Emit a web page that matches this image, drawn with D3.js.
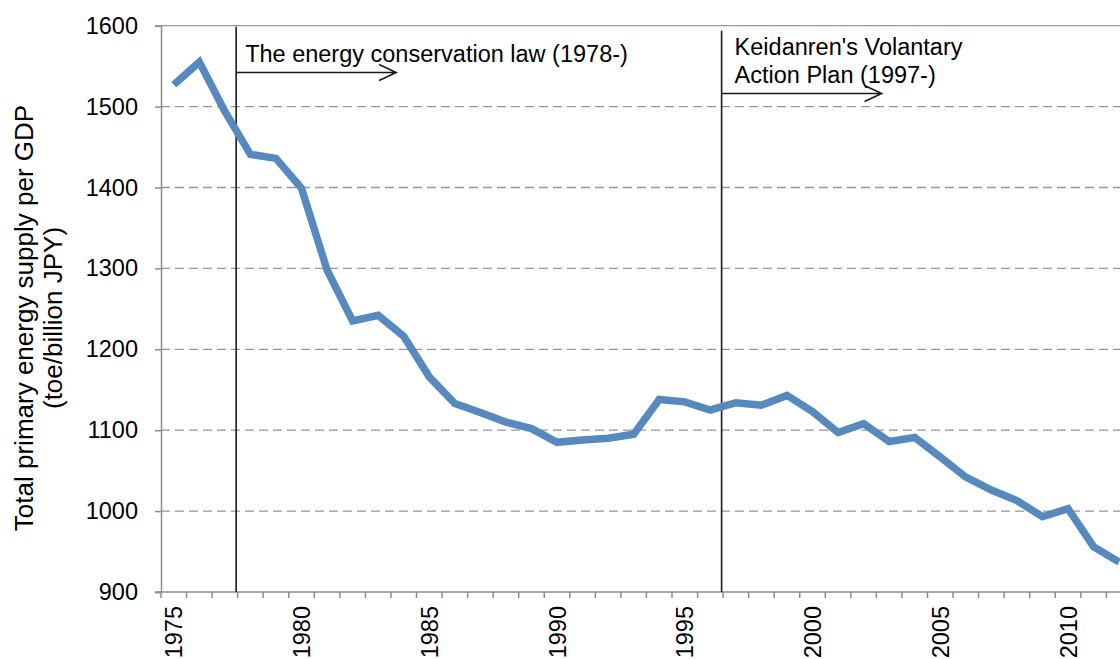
<!DOCTYPE html>
<html>
<head>
<meta charset="utf-8">
<script src="https://cdn.jsdelivr.net/npm/d3@7"></script>
<style>
  body { margin: 0; background: #fff; }
  svg { display: block; font-family: "Liberation Sans", Arial, sans-serif; }
</style>
</head>
<body>
<div id="chart"></div>
<script>
// data
const years = d3.range(1975, 2013)
const supply = [1527, 1555, 1494, 1441, 1436, 1399, 1298, 1235, 1242, 1216,
  1166, 1133, 1122, 1110, 1102, 1085, 1088, 1090, 1095, 1138,
  1135, 1125, 1134, 1131, 1143, 1123, 1097, 1108, 1086, 1091,
  1067, 1042, 1026, 1013, 993, 1003, 956, 937]
const yTicks = [900, 1000, 1100, 1200, 1300, 1400, 1500, 1600]
const labelYears = [1975, 1980, 1985, 1990, 1995, 2000, 2005, 2010]
const policyYears = [1978, 1997]
const policyLabels = [["The energy conservation law (1978-)"], ["Keidanren's Volantary", "Action Plan (1997-)"]]

const width = 1120
const height = 659
const margin = { left: 161, top: 25.7 }
const plotBottom = 592
const plotRight = 161 + years.length * 25.55

const svg = d3.select("#chart")
  .append("svg")
  .attr("width", width)
  .attr("height", height)

const x = d3.scaleBand()
  .domain(years)
  .range([margin.left, plotRight])
  .padding(0)

const y = d3.scaleLinear()
  .domain([900, 1600])
  .range([plotBottom, margin.top])

//gridlines
svg.append("g")
  .selectAll("line")
  .data(yTicks.filter(d => d > 900))
  .join("line")
  .attr("x1", margin.left)
  .attr("x2", plotRight)
  .attr("y1", d => y(d))
  .attr("y2", d => y(d))
  .attr("stroke", "#969696")
  .attr("stroke-width", 1.3)
  .attr("stroke-dasharray", d => d === 1600 ? null : "9,5")

//y axis
const yAxis = svg.append("g")
  .attr("transform", `translate(${margin.left},0)`)
  .call(d3.axisLeft(y).tickValues(yTicks).tickSize(6).tickPadding(17).tickFormat(d3.format("d")))
yAxis.select(".domain").attr("stroke", "#8c8c8c").attr("stroke-width", 1.5)
yAxis.selectAll(".tick line").attr("stroke", "#8c8c8c").attr("stroke-width", 1.5)
yAxis.selectAll(".tick text")
  .attr("fill", "#000")
  .style("font-size", "23.5px")
  .style("font-family", "Liberation Sans, Arial, sans-serif")

//x axis, ticks on band boundaries
const xAxis = svg.append("g")
xAxis.append("line")
  .attr("x1", margin.left - 6)
  .attr("x2", plotRight)
  .attr("y1", plotBottom)
  .attr("y2", plotBottom)
  .attr("stroke", "#8c8c8c")
  .attr("stroke-width", 1.5)
xAxis.selectAll("line.tk")
  .data(years)
  .join("line")
  .attr("class", "tk")
  .attr("x1", d => x(d))
  .attr("x2", d => x(d))
  .attr("y1", plotBottom)
  .attr("y2", plotBottom + 6)
  .attr("stroke", "#8c8c8c")
  .attr("stroke-width", 1.5)
xAxis.selectAll("text")
  .data(labelYears)
  .join("text")
  .attr("transform", d => `translate(${x(d) + x.bandwidth() / 2 + 8.5},606) rotate(-90)`)
  .attr("text-anchor", "end")
  .style("font-size", "23.5px")
  .text(d => d)

//y axis title
const title = svg.append("text")
  .attr("transform", "translate(0,318) rotate(-90)")
  .attr("text-anchor", "middle")
  .style("font-size", "26px")
title.append("tspan").attr("x", 0).attr("y", 33).text("Total primary energy supply per GDP")
title.append("tspan").attr("x", 0).attr("y", 62).text("(toe/billion JPY)")

//policy lines and arrows
const arrowY = [72.5, 93.5]
const arrowLen = [160, 160]
const lineTop = [26.7, 30.7]
const textDx = [9, 13]
policyYears.forEach((yr, i) => {
  const px = x(yr) - 1.5
  svg.append("line")
    .attr("x1", px).attr("x2", px)
    .attr("y1", lineTop[i]).attr("y2", plotBottom)
    .attr("stroke", "#1a1a1a")
    .attr("stroke-width", 1.6)
  const ax = px + arrowLen[i]
  svg.append("path")
    .attr("d", `M${px},${arrowY[i]}H${ax}M${ax - 17},${arrowY[i] - 8}L${ax},${arrowY[i]}L${ax - 17},${arrowY[i] + 8}`)
    .attr("fill", "none")
    .attr("stroke", "#1a1a1a")
    .attr("stroke-width", 1.6)
  const t = svg.append("text")
    .attr("y", i === 0 ? 62 : 55)
    .style("font-size", "23.5px")
  policyLabels[i].forEach((s, j) => {
    t.append("tspan").attr("x", px + textDx[i]).attr("dy", j === 0 ? 0 : 27.5).text(s)
  })
})

//data line
const line = d3.line()
  .x((d, i) => x(years[i]) + x.bandwidth() / 2)
  .y(d => y(d))

svg.append("path")
  .datum(supply)
  .attr("d", line)
  .attr("fill", "none")
  .attr("stroke", "#5689be")
  .attr("stroke-width", 7.5)
  .attr("stroke-linejoin", "miter")
</script>
</body>
</html>
